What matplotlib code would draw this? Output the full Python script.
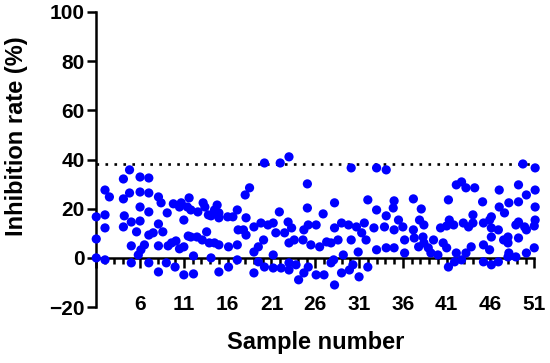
import matplotlib
matplotlib.use("Agg")
import matplotlib.pyplot as plt
from matplotlib.ticker import MultipleLocator, FixedLocator

plt.rcParams['font.family'] = ['Liberation Sans', 'DejaVu Sans']
plt.rcParams['font.weight'] = 'bold'

# Данные: номер образца (с разбросом) и степень ингибирования
samples = [1.0, 2.0, 2.0, 2.5, 1.0, 2.0, 1.0, 2.0, 4.8, 4.1, 6.0, 7.0, 4.1, 4.8, 6.0, 7.0,
           6.0, 7.0, 4.2, 5.0, 6.0, 4.1, 5.6, 7.0, 7.5, 8.1, 8.4, 8.1, 8.6, 5.0, 6.5, 6.1,
           5.8, 5.0, 7.0, 8.1, 8.1, 9.0, 9.2, 9.6, 10.1, 10.0, 9.1, 9.8, 10.5, 11.0, 10.7, 11.6,
           11.4, 11.8, 11.5, 11.8, 10.5, 11.0, 11.0, 12.1, 12.1, 12.5, 13.1, 12.6, 13.2, 13.4,
           13.8, 13.6, 13.9, 14.1, 14.8, 14.5, 14.1, 15.0, 15.0, 14.5, 15.0, 15.0, 16.1, 16.1,
           16.0, 16.6, 17.1, 17.2, 17.1, 17.1, 17.8, 18.0, 18.5, 18.1, 18.1,
           19.0, 19.8, 20.6, 21.2, 20.1, 19.5, 19.0, 19.5, 19.0, 20.2, 21.2, 21.2, 20.2, 22.0,
           23.0, 21.9, 21.5, 22.5, 22.9, 23.3, 23.0, 23.6, 22.1, 23.0, 23.0, 24.1, 23.8, 24.7,
           25.2, 25.1, 25.1, 24.7, 25.2, 24.6, 25.5, 26.1, 26.9, 26.5, 27.3, 26.1, 27.0, 28.2,
           28.2, 27.8, 28.1, 28.6, 28.2, 27.8, 29.0, 29.2, 29.0, 29.8, 30.1, 30.1, 29.9, 30.3,
           30.7, 30.9, 31.0, 31.3, 31.6, 31.8, 32.0, 32.0, 32.7, 33.0, 33.0, 33.0, 34.1, 34.1,
           33.9, 34.9, 35.0, 35.0, 35.5, 34.1, 35.0,
           36.0, 36.2, 36.2, 37.2, 38.1, 37.9, 38.4, 37.2, 37.3, 38.3, 37.8, 38.4, 38.9, 39.2,
           40.0, 39.5, 41.2, 41.3, 40.3, 41.0, 40.6, 41.0, 41.2, 42.1, 41.9, 41.8, 42.1, 42.7,
           43.2, 44.2, 42.9, 43.5, 44.0, 44.0, 43.8, 43.2, 42.7, 45.1, 45.2, 45.9, 46.1, 45.2,
           45.2, 46.1, 46.1, 45.9, 46.1, 46.9, 46.9, 47.0, 47.0, 47.6, 47.5, 48.0, 48.0, 48.1,
           48.0, 48.9, 48.1, 49.2, 49.2, 49.2, 49.2, 48.9, 50.1, 49.9, 50.1, 50.1, 49.7, 51.1,
           51.1, 51.1, 51.1, 51.0, 51.0]
inhibition = [16.7, 17.5, 27.6, 24.8, 7.7, 12.2, 0.0, -0.8, 35.8, 32.1, 32.9, 32.5, 24.0, 26.4, 26.8, 26.4,
              20.7, 18.7, 17.1, 14.6, 15.0, 12.6, 10.6, 9.3, 10.2, 24.8, 22.4, 13.8, 10.6, 4.9, 5.3, 3.3,
              1.2, -2.0, -2.0, 4.9, -5.7, -2.0, 4.9, 6.1, 6.9, -3.7, 18.3, 22.0, 20.7, 15.4, 22.4, 24.4,
              20.7, 19.5, 8.9, 8.5, 3.7, 4.5, -6.9, -6.5, 0.8, 8.5, 7.3, 18.7, 22.4, 20.7,
              17.5, 10.6, 6.1, 0.0, 21.5, 19.5, 17.1, 18.3, 16.3, 6.1, 5.3, -5.7, -3.7, 4.5,
              16.7, 16.7, 19.5, 11.4, 5.3, -0.8, 11.4, 25.6, 28.5, 16.3, 9.3,
              12.6, 14.2, 13.4, 14.2, 7.3, 4.5, 2.4, -1.6, -6.1, -3.7, 1.2, -4.1, 38.6, 38.6,
              41.1, 18.7, 10.2, 10.2, 14.6, 12.2, 6.1, 7.3, -4.1, -2.0, -4.9, -8.9, -2.8, -6.1,
              -3.7, 30.1, 20.3, 11.4, 13.4, 7.3, 5.3, 13.4, 17.9, 4.5, 6.5, -6.9, -6.9, 22.4,
              12.2, 6.1, -0.8, 7.3, -11.0, -2.0, 14.2, 1.2, -6.1, 13.4, 7.3, 36.6, -4.9, -2.8,
              12.6, 2.4, -7.7, 10.2, 14.2, 7.3, 23.6, -3.7, 12.2, 19.5, 3.3, 36.6, 35.8, 17.1,
              12.6, 20.3, 23.2, 11.4, 15.4, 4.1, 4.1,
              12.6, 7.3, 2.0, 24.0, 19.9, 15.4, 13.4, 11.4, 8.1, 8.5, 4.5, 6.1, 4.1, 2.0,
              1.2, 7.3, 23.6, 15.4, 12.2, 13.0, 6.1, 4.1, -3.7, 2.0, -1.6, 13.4, 29.7, 30.9,
              28.5, 28.5, 14.2, 12.6, 14.2, 17.5, 4.5, 2.0, -0.8, 22.8, 14.2, 15.4, 16.7, 5.3,
              -1.6, 12.2, 8.5, 3.3, -2.8, 11.4, -1.6, 27.6, 20.7, 18.3, 7.3, 8.5, 6.1, 22.4,
              0.4, 0.4, 2.0, 22.8, 29.7, 14.6, 8.1, 13.4, 25.6, 12.6, 11.4, 2.0, 38.2, 36.6,
              27.6, 20.7, 15.4, 13.0, 4.1]

threshold = 38.3
y_ticks = [-20, 0, 20, 40, 60, 80, 100]
x_labels = ['', '6', '11', '16', '21', '26', '31', '36', '41', '46', '51']

fig = plt.figure(figsize=(5.5, 3.63), dpi=100)
ax = fig.add_axes([0.175, 0.154, 0.798, 0.813])

ax.scatter(samples, inhibition, s=44, color='#0000FF', edgecolors='none', zorder=3, clip_on=False)
ax.plot([1, 51], [threshold, threshold], color='black', linewidth=1.9,
        linestyle=(0, (1, 2.4)), zorder=2)

ax.set_xlim(1, 51.1)
ax.set_ylim(-20, 100)

# оси в стиле GraphPad
ax.spines['top'].set_visible(False)
ax.spines['right'].set_visible(False)
ax.spines['left'].set_linewidth(1.8)
ax.spines['bottom'].set_linewidth(1.8)
ax.spines['bottom'].set_position(('data', 0))
ax.spines['bottom'].set_bounds(1, 51)

ax.set_yticks(y_ticks)
ax.tick_params(axis='y', direction='out', length=6.5, width=1.8, labelsize=15, pad=2)

ax.xaxis.set_major_locator(FixedLocator(list(range(1, 52, 5))))
ax.set_xticklabels(x_labels)
ax.xaxis.set_minor_locator(MultipleLocator(1))
ax.tick_params(axis='x', which='major', direction='out', length=7, width=1.8,
               labelsize=15, pad=20)
ax.tick_params(axis='x', which='minor', direction='out', length=4, width=1.8)

for lab in ax.get_xticklabels() + ax.get_yticklabels():
    lab.set_fontweight('bold')

ax.set_ylabel('Inhibition rate (%)', fontsize=17, fontweight='bold')
ax.yaxis.set_label_coords(-0.155, 0.58)
ax.set_xlabel('Sample number', fontsize=17, fontweight='bold')
ax.xaxis.set_label_coords(0.5, -0.08)

plt.savefig('out.png', dpi=100)
